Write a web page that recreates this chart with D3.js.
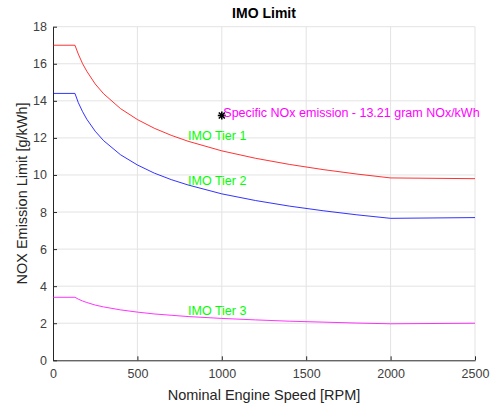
<!DOCTYPE html>
<html><head><meta charset="utf-8">
<script src="https://cdn.jsdelivr.net/npm/d3@7"></script>
<style>body{margin:0;background:#fff}svg{display:block;font-family:"Liberation Sans",Arial,sans-serif}</style>
</head><body>
<script>
const rpm   = [0, 130, 150, 175, 200, 250, 300, 400, 500, 600, 700, 800, 1000, 1200, 1400, 1600, 1800, 2000, 2500];
const tier1 = [17, 17, 16.52, 16.01, 15.60, 14.91, 14.38, 13.58, 12.99, 12.52, 12.14, 11.82, 11.30, 10.90, 10.57, 10.29, 10.05, 9.84, 9.80];
const tier2 = [14.4, 14.4, 13.90, 13.42, 13.01, 12.36, 11.85, 11.09, 10.54, 10.10, 9.75, 9.46, 8.98, 8.62, 8.32, 8.07, 7.85, 7.66, 7.70];
const tier3 = [3.4, 3.4, 3.30, 3.20, 3.12, 2.98, 2.88, 2.72, 2.60, 2.50, 2.43, 2.36, 2.26, 2.18, 2.11, 2.06, 2.01, 1.97, 2.00];
const xTicks = [0, 500, 1000, 1500, 2000, 2500];
const yTicks = [0, 2, 4, 6, 8, 10, 12, 14, 16, 18];
const seriesNames = ["IMO Tier 1", "IMO Tier 2", "IMO Tier 3"];
const seriesColors = ["#ff0000", "#0000ff", "#ff00ff"];
const labelPos = [[800, 12.1], [800, 9.7], [800, 2.7]];
const pointRpm = 1000, pointValue = 13.21;
const pointLabel = "Specific NOx emission - 13.21 gram NOx/kWh";

const W = 492, H = 405;
const m = {l: 53, r: 17, t: 26.7, b: 44.7};
const svg = d3.select("body").append("svg").attr("width", W).attr("height", H);
const x = d3.scaleLinear().domain([0, 2500]).range([m.l, W - m.r]);
const y = d3.scaleLinear().domain([0, 18]).range([H - m.b, m.t]);

// grid
const g = svg.append("g");
g.selectAll(".gx").data(xTicks.slice(1)).join("line")
  .attr("x1", d => x(d)).attr("x2", d => x(d)).attr("y1", y(0)).attr("y2", y(18))
  .attr("stroke", "#e3e3e3").attr("stroke-width", 1);
g.selectAll(".gy").data(yTicks.slice(1)).join("line")
  .attr("y1", d => y(d)).attr("y2", d => y(d)).attr("x1", x(0)).attr("x2", x(2500))
  .attr("stroke", "#e3e3e3").attr("stroke-width", 1);

// axes
const ax = svg.append("g").attr("transform", `translate(0,${y(0)})`)
  .call(d3.axisBottom(x).tickValues(xTicks).tickFormat(d3.format("d")).tickSize(-4).tickPadding(9).tickSizeOuter(0));
const ay = svg.append("g").attr("transform", `translate(${x(0)},0)`)
  .call(d3.axisLeft(y).tickValues(yTicks).tickFormat(d3.format("d")).tickSize(-4).tickPadding(6).tickSizeOuter(0));
[ax, ay].forEach(a => {
  a.select(".domain").attr("stroke", "#262626");
  a.selectAll(".tick line").attr("stroke", "#262626");
  a.selectAll(".tick text").attr("fill", "#404040").attr("font-size", 12.5).attr("font-family", "Liberation Sans, Arial, sans-serif");
});

// lines
const line = d3.line().x(d => x(d[0])).y(d => y(d[1]));
[tier1, tier2, tier3].forEach((s, i) => {
  svg.append("path").datum(rpm.map((r, j) => [r, s[j]]))
    .attr("d", line).attr("fill", "none").attr("stroke", seriesColors[i])
    .attr("stroke-width", 1).attr("stroke-opacity", 0.8);
});

// labels
seriesNames.forEach((n, i) => {
  svg.append("text").attr("x", x(labelPos[i][0])).attr("y", y(labelPos[i][1]))
    .attr("dy", "0.35em").attr("fill", "#00ff00").attr("font-size", 12.5).text(n);
});

// point
const px = x(pointRpm), py = y(pointValue);
const star = svg.append("g").attr("transform", `translate(${px},${py})`);
[[0, -4, 0, 4], [-4, 0, 4, 0], [-3, -3, 3, 3], [-3, 3, 3, -3]].forEach(c => {
  star.append("line").attr("x1", c[0]).attr("y1", c[1]).attr("x2", c[2]).attr("y2", c[3])
    .attr("stroke", "#000").attr("stroke-width", 1.6);
});
svg.append("text").attr("x", px + 1.5).attr("y", py - 3).attr("dy", "0.35em")
  .attr("fill", "#ff00ff").attr("font-size", 12.5).text(pointLabel);

// title & axis labels
svg.append("text").attr("x", (x(0) + x(2500)) / 2).attr("y", 18).attr("text-anchor", "middle")
  .attr("font-weight", "bold").attr("font-size", 14).attr("fill", "#000").text("IMO Limit");
svg.append("text").attr("x", (x(0) + x(2500)) / 2).attr("y", 400).attr("text-anchor", "middle")
  .attr("font-size", 14.5).attr("fill", "#262626").text("Nominal Engine Speed [RPM]");
svg.append("text").attr("transform", `translate(27,${(y(0) + y(18)) / 2}) rotate(-90)`)
  .attr("text-anchor", "middle").attr("font-size", 14.5).attr("fill", "#262626").text("NOX Emission Limit [g/kWh]");
</script>
</body></html>
